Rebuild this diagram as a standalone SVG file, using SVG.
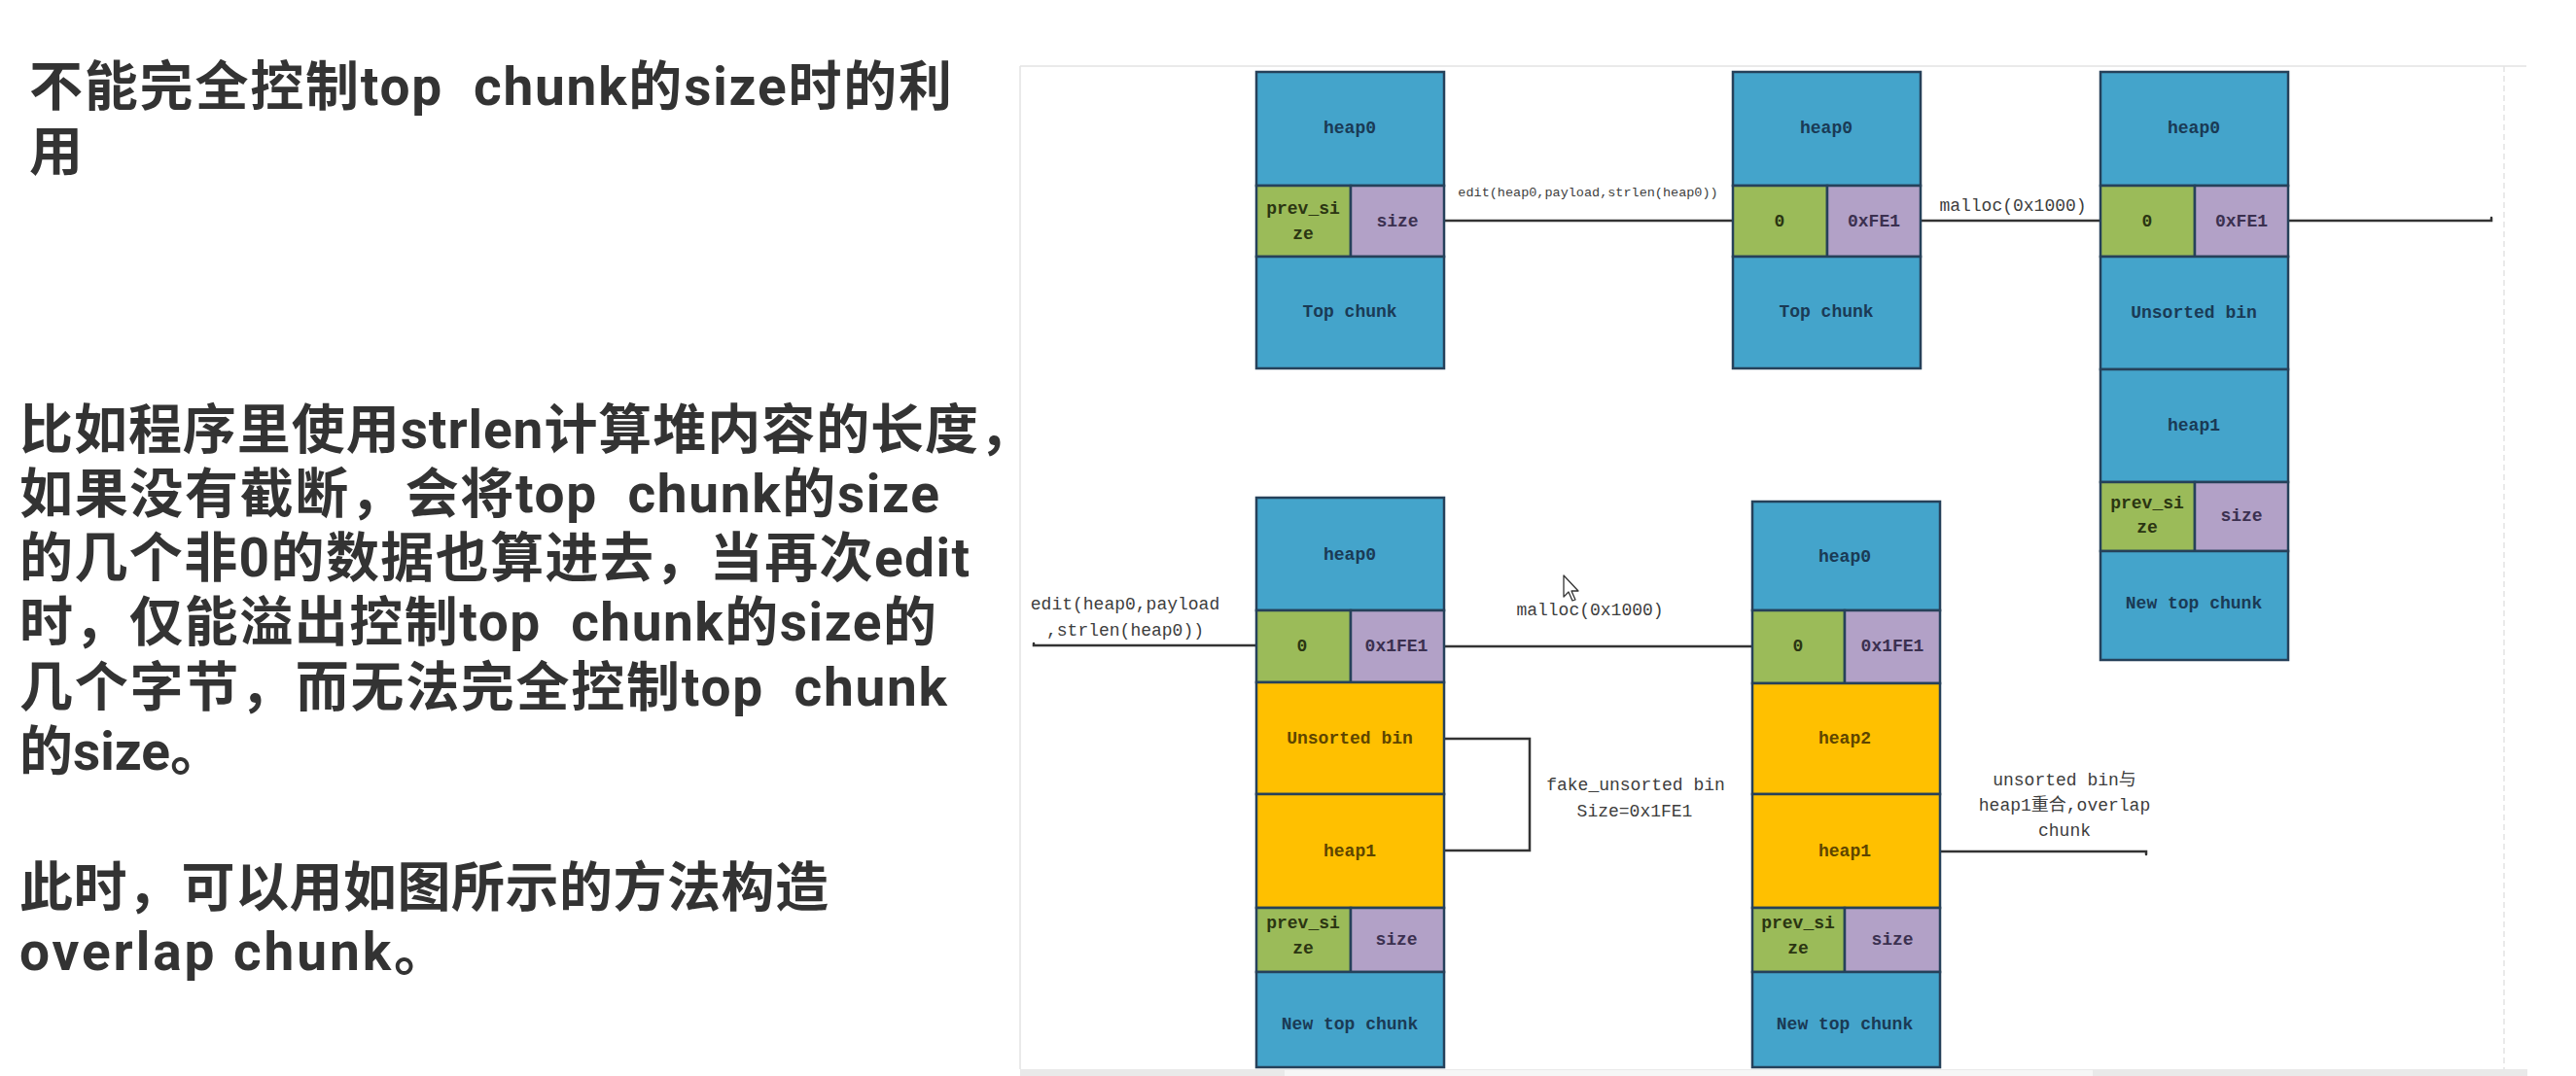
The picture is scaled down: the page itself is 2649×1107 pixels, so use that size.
<svg xmlns="http://www.w3.org/2000/svg" width="2649" height="1107" viewBox="0 0 2649 1107">
<defs>
<style>
.bg{fill:#ffffff}
.frame{stroke:#e3e3e3;stroke-width:1.5;fill:none}
.c{stroke:#26415a;stroke-width:2.5}
.blue{fill:#44a4cb}
.green{fill:#9bbb59}
.purple{fill:#b2a1c7}
.orange{fill:#ffc000}
.lbl{font-family:"Liberation Mono","Noto Sans CJK SC",monospace;font-size:18px;font-weight:bold;text-anchor:middle;dominant-baseline:central}
.tb{fill:#1a3a55}
.tg{fill:#2b3512}
.tp{fill:#3b3050}
.to{fill:#5e4500}
.conn{stroke:#333333;stroke-width:2.5;fill:none;stroke-linecap:round}
.clbl{font-family:"Liberation Mono","Noto Sans CJK SC",monospace;font-size:18px;fill:#3d3d3d;text-anchor:middle;dominant-baseline:central}
.small{font-size:13.5px}
.para{font-family:Roboto,"Noto Sans CJK SC","Noto Sans CJK JP",sans-serif;font-size:55px;font-weight:bold;fill:#333333}
</style>
</defs>
<rect class="bg" x="0" y="0" width="2649" height="1107"/>

<g id="left-text">
<text class="para" x="30" y="108" xml:space="preserve" textLength="949" lengthAdjust="spacing">不能完全控制top  chunk的size时的利</text>
<text class="para" x="30" y="175">用</text>
<text class="para" x="20" y="461" textLength="1042" lengthAdjust="spacing">比如程序里使用strlen计算堆内容的长度，</text>
<text class="para" x="20" y="527" xml:space="preserve" textLength="946" lengthAdjust="spacing">如果没有截断，会将top  chunk的size</text>
<text class="para" x="20" y="593" textLength="977" lengthAdjust="spacing">的几个非0的数据也算进去，当再次edit</text>
<text class="para" x="20" y="659" xml:space="preserve" textLength="943" lengthAdjust="spacing">时，仅能溢出控制top  chunk的size的</text>
<text class="para" x="20" y="726" xml:space="preserve" textLength="954" lengthAdjust="spacing">几个字节，而无法完全控制top  chunk</text>
<text class="para" x="20" y="792">的size。</text>
<text class="para" x="20" y="932" textLength="832" lengthAdjust="spacing">此时，可以用如图所示的方法构造</text>
<text class="para" x="20" y="998" textLength="440" lengthAdjust="spacing">overlap chunk。</text>
</g>

<g id="frame">
<line class="frame" x1="1049" y1="68" x2="2598" y2="68"/>
<line class="frame" x1="1049" y1="68" x2="1049" y2="1100"/>
<line class="frame" x1="2575" y1="68" x2="2575" y2="1100" stroke-dasharray="6 4"/>
<rect x="1049" y="1100" width="1550" height="7" fill="#e9e9e9"/>
<rect x="1321" y="1101" width="831" height="6" fill="#f6f6f6"/>
</g>

<g id="connectors">
<path class="conn" d="M1485,227 H1782"/>
<path class="conn" d="M1975,227 H2160"/>
<path class="conn" d="M2353,227 H2562 v-3"/>
<path class="conn" d="M1063,662 v2 H1292"/>
<path class="conn" d="M1485,665 H1802"/>
<path class="conn" d="M1485,760 H1573 V875 H1485"/>
<path class="conn" d="M1995,876 H2207 v3"/>
<text class="clbl small" x="1633" y="198">edit(heap0,payload,strlen(heap0))</text>
<text class="clbl" x="2070" y="212">malloc(0x1000)</text>
<text class="clbl" x="1157" y="622">edit(heap0,payload</text>
<text class="clbl" x="1157" y="649">,strlen(heap0))</text>
<text class="clbl" x="1635" y="628">malloc(0x1000)</text>
<text class="clbl" x="1682" y="808">fake_unsorted bin</text>
<text class="clbl" x="1681" y="835">Size=0x1FE1</text>
<text class="clbl" x="2123" y="803">unsorted bin与</text>
<text class="clbl" x="2123" y="829">heap1重合,overlap</text>
<text class="clbl" x="2123" y="855">chunk</text>
</g>

<g id="chunk-A">
<rect class="c blue" x="1292" y="74" width="193" height="117"/>
<rect class="c green" x="1292" y="191" width="97" height="73"/>
<rect class="c purple" x="1389" y="191" width="96" height="73"/>
<rect class="c blue" x="1292" y="264" width="193" height="115"/>
<text class="lbl tb" x="1388" y="132">heap0</text>
<text class="lbl tg" x="1340" y="215">prev_si</text>
<text class="lbl tg" x="1340" y="241">ze</text>
<text class="lbl tp" x="1437" y="228">size</text>
<text class="lbl tb" x="1388" y="321">Top chunk</text>
</g>

<g id="chunk-B">
<rect class="c blue" x="1782" y="74" width="193" height="117"/>
<rect class="c green" x="1782" y="191" width="97" height="73"/>
<rect class="c purple" x="1879" y="191" width="96" height="73"/>
<rect class="c blue" x="1782" y="264" width="193" height="115"/>
<text class="lbl tb" x="1878" y="132">heap0</text>
<text class="lbl tg" x="1830" y="228">0</text>
<text class="lbl tp" x="1927" y="228">0xFE1</text>
<text class="lbl tb" x="1878" y="321">Top chunk</text>
</g>

<g id="chunk-C">
<rect class="c blue" x="2160" y="74" width="193" height="117"/>
<rect class="c green" x="2160" y="191" width="97" height="73"/>
<rect class="c purple" x="2257" y="191" width="96" height="73"/>
<rect class="c blue" x="2160" y="264" width="193" height="116"/>
<rect class="c blue" x="2160" y="380" width="193" height="116"/>
<rect class="c green" x="2160" y="496" width="97" height="71"/>
<rect class="c purple" x="2257" y="496" width="96" height="71"/>
<rect class="c blue" x="2160" y="567" width="193" height="112"/>
<text class="lbl tb" x="2256" y="132">heap0</text>
<text class="lbl tg" x="2208" y="228">0</text>
<text class="lbl tp" x="2305" y="228">0xFE1</text>
<text class="lbl tb" x="2256" y="322">Unsorted bin</text>
<text class="lbl tb" x="2256" y="438">heap1</text>
<text class="lbl tg" x="2208" y="518">prev_si</text>
<text class="lbl tg" x="2208" y="543">ze</text>
<text class="lbl tp" x="2305" y="531">size</text>
<text class="lbl tb" x="2256" y="621">New top chunk</text>
</g>

<g id="chunk-D">
<rect class="c blue" x="1292" y="512" width="193" height="116"/>
<rect class="c green" x="1292" y="628" width="97" height="74"/>
<rect class="c purple" x="1389" y="628" width="96" height="74"/>
<rect class="c orange" x="1292" y="702" width="193" height="115"/>
<rect class="c orange" x="1292" y="817" width="193" height="117"/>
<rect class="c green" x="1292" y="934" width="97" height="66"/>
<rect class="c purple" x="1389" y="934" width="96" height="66"/>
<rect class="c blue" x="1292" y="1000" width="193" height="98"/>
<text class="lbl tb" x="1388" y="571">heap0</text>
<text class="lbl tg" x="1339" y="665">0</text>
<text class="lbl tp" x="1436" y="665">0x1FE1</text>
<text class="lbl to" x="1388" y="760">Unsorted bin</text>
<text class="lbl to" x="1388" y="876">heap1</text>
<text class="lbl tg" x="1340" y="950">prev_si</text>
<text class="lbl tg" x="1340" y="976">ze</text>
<text class="lbl tp" x="1436" y="967">size</text>
<text class="lbl tb" x="1388" y="1054">New top chunk</text>
</g>

<g id="chunk-E">
<rect class="c blue" x="1802" y="516" width="193" height="112"/>
<rect class="c green" x="1802" y="628" width="95" height="75"/>
<rect class="c purple" x="1897" y="628" width="98" height="75"/>
<rect class="c orange" x="1802" y="703" width="193" height="114"/>
<rect class="c orange" x="1802" y="817" width="193" height="117"/>
<rect class="c green" x="1802" y="934" width="95" height="66"/>
<rect class="c purple" x="1897" y="934" width="98" height="66"/>
<rect class="c blue" x="1802" y="1000" width="193" height="98"/>
<text class="lbl tb" x="1897" y="573">heap0</text>
<text class="lbl tg" x="1849" y="665">0</text>
<text class="lbl tp" x="1946" y="665">0x1FE1</text>
<text class="lbl to" x="1897" y="760">heap2</text>
<text class="lbl to" x="1897" y="876">heap1</text>
<text class="lbl tg" x="1849" y="950">prev_si</text>
<text class="lbl tg" x="1849" y="976">ze</text>
<text class="lbl tp" x="1946" y="967">size</text>
<text class="lbl tb" x="1897" y="1054">New top chunk</text>
</g>

<g id="cursor">
<path d="M1608,592 L1608,614 L1613,609 L1617,618 L1620,617 L1616,608 L1623,608 Z" fill="#ffffff" stroke="#333333" stroke-width="1.3" stroke-linejoin="round"/>
</g>
</svg>
